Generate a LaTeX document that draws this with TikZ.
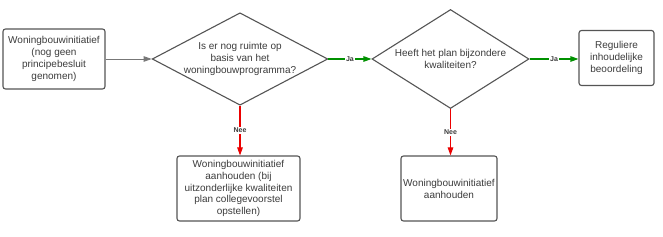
\documentclass[tikz,border=0pt]{standalone}
\usepackage{fontspec}
\setmainfont{Liberation Sans}
\usepackage{xcolor}
\usetikzlibrary{shapes.geometric,arrows.meta,positioning}
\definecolor{lineGray}{RGB}{85,85,85}
\definecolor{textGray}{RGB}{60,60,60}
\definecolor{jaGreen}{RGB}{0,145,0}
\definecolor{neeRed}{RGB}{235,0,0}

\begin{document}
\begin{tikzpicture}[
    x=1pt, y=-1pt,
    box/.style={rectangle, rounded corners=2.5pt, draw=lineGray, line width=1.1pt, align=center,
        text=textGray, font=\fontsize{10}{12}\selectfont, inner sep=1pt},
    decision/.style={diamond, draw=lineGray, line width=1.1pt, align=center, inner sep=0pt,
        text=textGray, font=\fontsize{10}{12}\selectfont},
    arrow/.style={-{Triangle[length=8pt,width=5.5pt]}, line width=1.1pt},
    answer/.style={font=\fontsize{7}{8}\selectfont\bfseries, text=textGray, fill=white, inner sep=1pt}
]
\path[use as bounding box, fill=white] (0,0) rectangle (663,237);

% Main steps
\node[box, minimum width=102pt, minimum height=60pt] (start) at (54,59)
    {Woningbouwinitiatief\\(nog geen\\principebesluit\\genomen)};
\node[decision, minimum width=174pt, minimum height=92pt, shape aspect=1.9] (ruimte) at (240,59)
    {Is er nog ruimte op\\basis van het\\woningbouwprogramma?};
\node[decision, minimum width=157pt, minimum height=99pt, shape aspect=1.6] (kwal) at (450.5,59)
    {Heeft het plan bijzondere\\kwaliteiten?};
\node[box, minimum width=75pt, minimum height=55pt] (regulier) at (616.5,58)
    {Reguliere\\inhoudelijke\\beoordeling};
\node[box, minimum width=123pt, minimum height=65pt, font=\fontsize{10}{11.6}\selectfont] (aanhoudenA) at (238.5,188.5)
    {Woningbouwinitiatief\\aanhouden (bij\\uitzonderlijke kwaliteiten\\plan collegevoorstel\\opstellen)};
\node[box, minimum width=96pt, minimum height=65pt] (aanhoudenB) at (449,188.5)
    {Woningbouwinitiatief\\aanhouden};

% Arrows
\draw[arrow, lineGray!80, line width=0.8pt] (start) -- (ruimte.west);
\draw[arrow, jaGreen] (ruimte.east) -- node[answer] {Ja} (kwal.west);
\draw[arrow, jaGreen] (kwal.east) -- node[answer] {Ja} (kwal.east -| regulier.west);
\draw[arrow, neeRed] (ruimte.south) -- node[answer] {Nee} (ruimte.south |- aanhoudenA.north);
\draw[arrow, neeRed] (kwal.south) -- node[answer] {Nee} (kwal.south |- aanhoudenB.north);

\end{tikzpicture}
\end{document}
